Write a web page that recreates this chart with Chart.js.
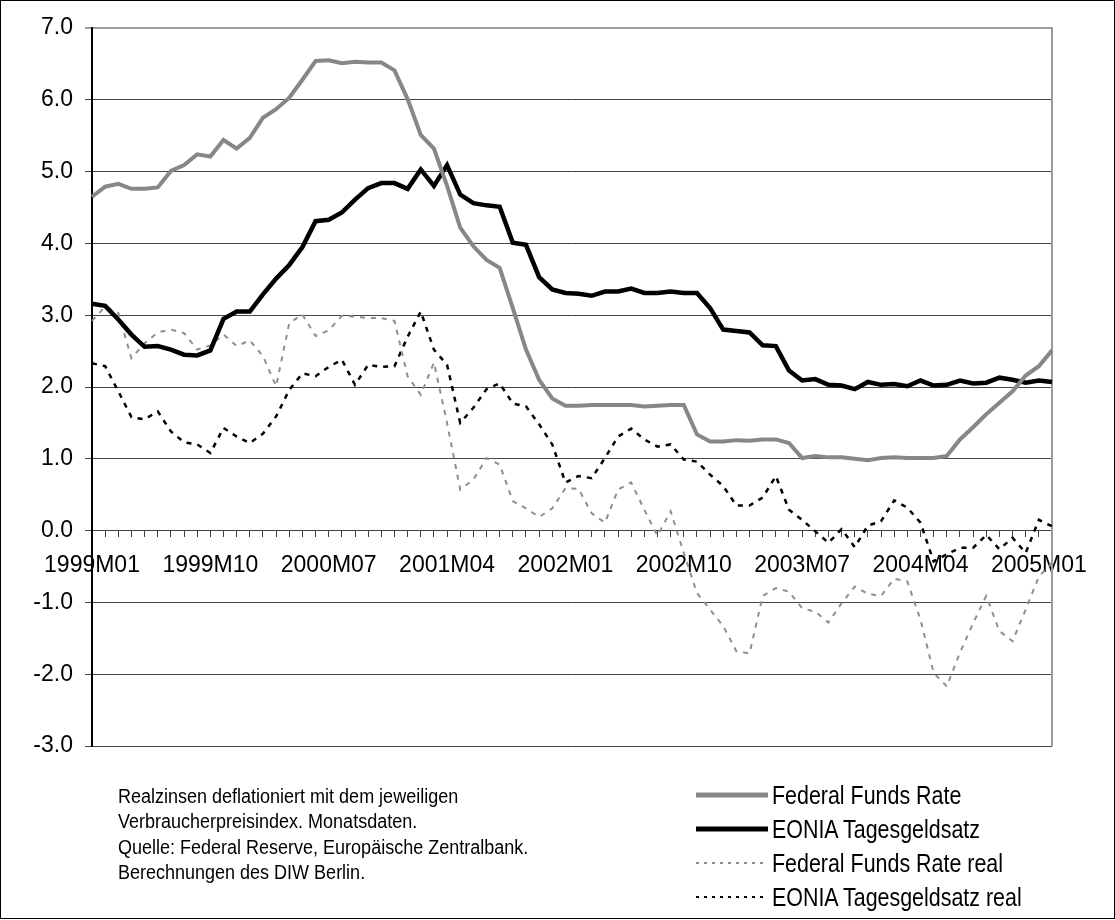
<!DOCTYPE html>
<html>
<head>
<meta charset="utf-8">
<script src="https://cdn.jsdelivr.net/npm/chart.js@4.4.1/dist/chart.umd.min.js"></script>
<style>
  html, body { margin: 0; padding: 0; background: #fff; }
  #wrap { position: relative; width: 1115px; height: 920px; overflow: hidden; }
  #frame { position: absolute; left: 0; top: 0; width: 1115px; height: 919px; box-sizing: border-box;
           border: 1px solid #000; pointer-events: none; }
  canvas { position: absolute; left: 0; top: 0; }
  .narrow { font-family: 'Liberation Sans', Arial, sans-serif; color: #000; transform-origin: 0 0; }
  #notes { position: absolute; left: 118px; top: 784px; font-size: 20px; line-height: 25.3px; white-space: nowrap; transform: scaleX(0.9); }
  #legend { position: absolute; left: 772px; top: 778px; font-size: 25.5px; transform: scaleX(0.84); }
  #legend .item { height: 34px; display: flex; align-items: center; white-space: nowrap; }
  #samples { position: absolute; left: 696px; top: 778px; }
  #samples .item { height: 34px; display: flex; align-items: center; }
</style>
</head>
<body>
<div id="wrap">
  <canvas id="chart" width="1115" height="920"></canvas>
  <div id="notes" class="narrow">
    Realzinsen deflationiert mit dem jeweiligen<br>
    Verbraucherpreisindex. Monatsdaten.<br>
    Quelle: Federal Reserve, Europäische Zentralbank.<br>
    Berechnungen des DIW Berlin.
  </div>
  <div id="samples"></div>
  <div id="legend" class="narrow"></div>
  <div id="frame"></div>
</div>
<script>
// months 1999M01 .. 2005M02
const categories = [];
for (let y = 1999; y <= 2005; y++) {
  for (let m = 1; m <= 12; m++) {
    if (y === 2005 && m > 2) break;
    categories.push(y + 'M' + (m < 10 ? '0' + m : m));
  }
}
const tickLabels = ['1999M01', '1999M10', '2000M07', '2001M04', '2002M01', '2002M10', '2003M07', '2004M04', '2005M01'];

const fedFunds = [4.65, 4.79, 4.83, 4.76, 4.76, 4.78, 5.01, 5.09, 5.24, 5.21, 5.44, 5.32,
  5.47, 5.75, 5.87, 6.03, 6.28, 6.54, 6.55, 6.51, 6.53, 6.52, 6.52, 6.41,
  6.01, 5.51, 5.32, 4.80, 4.22, 3.96, 3.77, 3.66, 3.10, 2.52, 2.10, 1.84,
  1.74, 1.74, 1.75, 1.75, 1.75, 1.75, 1.73, 1.74, 1.75, 1.75, 1.34, 1.24,
  1.24, 1.26, 1.25, 1.27, 1.27, 1.22, 1.01, 1.04, 1.02, 1.02, 1.00, 0.98,
  1.01, 1.02, 1.01, 1.01, 1.01, 1.04, 1.27, 1.44, 1.62, 1.78, 1.94, 2.16,
  2.29, 2.51];
const eonia = [3.16, 3.13, 2.94, 2.73, 2.56, 2.57, 2.52, 2.45, 2.44, 2.51, 2.95, 3.05,
  3.05, 3.29, 3.51, 3.70, 3.95, 4.31, 4.33, 4.43, 4.61, 4.77, 4.84, 4.84,
  4.76, 5.03, 4.80, 5.09, 4.68, 4.56, 4.53, 4.51, 4.01, 3.98, 3.53, 3.36,
  3.31, 3.30, 3.27, 3.33, 3.33, 3.37, 3.31, 3.31, 3.33, 3.31, 3.31, 3.10,
  2.80, 2.78, 2.76, 2.58, 2.57, 2.23, 2.09, 2.11, 2.03, 2.02, 1.97, 2.07,
  2.03, 2.04, 2.01, 2.09, 2.02, 2.03, 2.09, 2.05, 2.06, 2.13, 2.10, 2.06,
  2.09, 2.07];
const fedFundsReal = [2.92, 3.12, 3.03, 2.40, 2.61, 2.76, 2.80, 2.75, 2.52, 2.58, 2.73, 2.57,
  2.65, 2.43, 2.01, 2.89, 3.01, 2.71, 2.79, 2.99, 2.98, 2.96, 2.96, 2.92,
  2.15, 1.89, 2.34, 1.50, 0.57, 0.71, 1.01, 0.92, 0.41, 0.31, 0.19, 0.31,
  0.59, 0.58, 0.24, 0.11, 0.57, 0.67, 0.29, -0.07, 0.27, -0.31, -0.87, -1.10,
  -1.33, -1.68, -1.71, -0.91, -0.80, -0.85, -1.08, -1.13, -1.28, -1.01, -0.78, -0.88,
  -0.91, -0.67, -0.71, -1.24, -1.98, -2.17, -1.70, -1.29, -0.91, -1.40, -1.54, -1.10,
  -0.64, -0.45];
const eoniaReal = [2.33, 2.29, 1.94, 1.58, 1.55, 1.66, 1.38, 1.23, 1.20, 1.08, 1.43, 1.31,
  1.22, 1.35, 1.59, 1.96, 2.19, 2.15, 2.28, 2.38, 2.03, 2.31, 2.28, 2.29,
  2.70, 3.05, 2.52, 2.31, 1.50, 1.71, 1.97, 2.05, 1.77, 1.73, 1.48, 1.20,
  0.67, 0.76, 0.73, 1.01, 1.31, 1.42, 1.27, 1.17, 1.20, 0.99, 0.96, 0.78,
  0.62, 0.35, 0.35, 0.46, 0.76, 0.29, 0.15, -0.01, -0.17, 0.02, -0.23, 0.07,
  0.13, 0.42, 0.32, 0.11, -0.43, -0.33, -0.24, -0.24, -0.06, -0.26, -0.10, -0.31,
  0.15, 0.06];

const seriesNames = ['Federal Funds Rate', 'EONIA Tagesgeldsatz', 'Federal Funds Rate real', 'EONIA Tagesgeldsatz real'];

const tickFont = { family: "'Liberation Sans', Arial, sans-serif", size: 23 };

const datasets = [
  { label: seriesNames[0], data: fedFunds, borderColor: '#878787', borderWidth: 4 },
  { label: seriesNames[1], data: eonia, borderColor: '#000000', borderWidth: 4.5 },
  { label: seriesNames[2], data: fedFundsReal, borderColor: '#8f8f8f', borderWidth: 2, borderDash: [5, 6] },
  { label: seriesNames[3], data: eoniaReal, borderColor: '#000000', borderWidth: 2.5, borderDash: [5, 6] }
].map(d => Object.assign({ pointRadius: 0, tension: 0, fill: false }, d));

// right border of the plot area
const plotFrame = {
  id: 'plotFrame',
  beforeDatasetsDraw(chart) {
    const { ctx, chartArea } = chart;
    ctx.save();
    ctx.strokeStyle = '#9a9a9a';
    ctx.lineWidth = 2;
    ctx.beginPath();
    ctx.moveTo(chartArea.right, chartArea.top - 1);
    ctx.lineTo(chartArea.right, chartArea.bottom);
    ctx.stroke();
    ctx.restore();
  }
};

new Chart(document.getElementById('chart'), {
  type: 'line',
  data: { labels: categories, datasets: datasets },
  plugins: [plotFrame],
  options: {
    responsive: false,
    animation: false,
    devicePixelRatio: 1,
    layout: { padding: { left: 0, top: 28, right: 63, bottom: 174 } },
    plugins: { legend: { display: false }, tooltip: { enabled: false } },
    scales: {
      x: {
        position: { y: 0 },
        offset: false,
        grid: { drawOnChartArea: false, drawTicks: true, tickLength: 6, color: '#404040' },
        border: { display: true, color: '#404040', width: 1 },
        ticks: {
          autoSkip: false,
          maxRotation: 0,
          padding: 15,
          color: '#000',
          font: tickFont,
          callback: (v, i) => tickLabels.includes(categories[i]) ? categories[i] : ''
        }
      },
      y: {
        min: -3,
        max: 7,
        afterFit: s => { s.width = 92; },
        grid: {
          color: c => c.tick && c.tick.value === 7 ? '#a0a0a0' : '#454545',
          lineWidth: c => c.tick && c.tick.value === 7 ? 2 : 1,
          tickLength: 7
        },
        border: { display: true, color: '#000', width: 2 },
        ticks: {
          stepSize: 1,
          padding: 12,
          color: '#000',
          font: tickFont,
          callback: v => v.toFixed(1)
        }
      }
    }
  }
});

// legend: line samples and labels
const legendLines = [
  { color: '#878787', width: 5, dash: '' },
  { color: '#000', width: 5, dash: '' },
  { color: '#8f8f8f', width: 2, dash: '3,5' },
  { color: '#000', width: 2, dash: '3,5' }
];
const samples = document.getElementById('samples');
const legend = document.getElementById('legend');
seriesNames.forEach((name, i) => {
  const l = legendLines[i];
  const s = document.createElement('div');
  s.className = 'item';
  s.innerHTML = `<svg width="72" height="8"><line x1="0" y1="4" x2="72" y2="4" stroke="${l.color}"
    stroke-width="${l.width}" stroke-dasharray="${l.dash}"/></svg>`;
  samples.appendChild(s);
  const item = document.createElement('div');
  item.className = 'item';
  item.textContent = name;
  legend.appendChild(item);
});
</script>
</body>
</html>
